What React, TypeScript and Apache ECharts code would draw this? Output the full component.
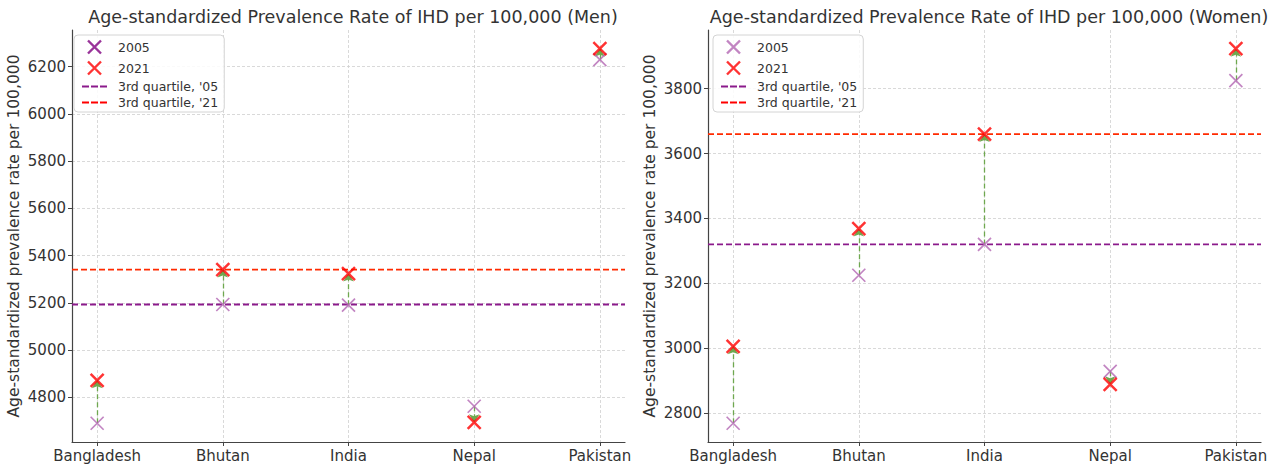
import React, { useEffect, useRef } from "react";
import * as echarts from "echarts";

const categories = ["Bangladesh", "Bhutan", "India", "Nepal", "Pakistan"];
const men2005 = [4690, 5193, 5190, 4762, 6230];
const men2021 = [4872, 5341, 5324, 4694, 6276];
const women2005 = [2769, 3225, 3320, 2929, 3825];
const women2021 = [3006, 3369, 3660, 2889, 3923];
const menTicks = [4800, 5000, 5200, 5400, 5600, 5800, 6000, 6200];
const womenTicks = [2800, 3000, 3200, 3400, 3600, 3800];
const xTicks = [0, 1, 2, 3, 4];

const titles = [
  "Age-standardized Prevalence Rate of IHD per 100,000 (Men)",
  "Age-standardized Prevalence Rate of IHD per 100,000 (Women)",
];
const yName = "Age-standardized prevalence rate per 100,000";

const FONT = "DejaVu Sans";
const TXT = "#333";
const X_ICON = "path://M0,0L10,10M10,0L0,10";
const DASH_ICON = "path://M0,4h7v2.2h-7zM9,4h7v2.2h-7zM18,4h7v2.2h-7z";
const PURPLE_L = "#b366b3";
const PURPLE_D = "#8b1a8b";
const RED = "#ff0000";
const RED_Q = "#ff2a00";
const GREEN = "#6fa84f";

function q3(arr: number[]) {
  const s = [...arr].sort((a, b) => a - b);
  const pos = (s.length - 1) * 0.75;
  const lo = Math.floor(pos);
  const hi = Math.ceil(pos);
  return s[lo] + (s[hi] - s[lo]) * (pos - lo);
}

function range(a: number[], b: number[]) {
  const all = [...a, ...b];
  const mn = Math.min(...all);
  const mx = Math.max(...all);
  const m = (mx - mn) * 0.05;
  return [mn - m, mx + m];
}

export default function App() {
  const ref = useRef<HTMLDivElement>(null);
  useEffect(() => {
    const chart = echarts.init(ref.current!, null, { renderer: "svg" });
    const panels = [
      { d05: men2005, d21: men2021, ticks: menTicks },
      { d05: women2005, d21: women2021, ticks: womenTicks },
    ];
    const grids = [
      { left: 72, right: 657, top: 30, bottom: 24 },
      { left: 708, right: 21, top: 30, bottom: 24 },
    ];
    const xAxes: any[] = [];
    const yAxes: any[] = [];
    const series: any[] = [];
    panels.forEach((p, i) => {
      const [ymin, ymax] = range(p.d05, p.d21);
      xAxes.push({
        type: "value",
        gridIndex: i,
        min: -0.2,
        max: 4.2,
        axisLine: { show: true, onZero: false, lineStyle: { color: "#444", width: 1.2 } },
        axisTick: { show: true, customValues: xTicks, length: 4, lineStyle: { color: "#444" } },
        axisLabel: {
          customValues: xTicks,
          formatter: (v: number) => categories[Math.round(v)] ?? "",
          color: TXT,
          fontFamily: FONT,
          fontSize: 15,
          margin: 6,
        },
        splitLine: { show: true, lineStyle: { color: "#cfcfcf", type: [3, 2], width: 0.8 } },
      });
      yAxes.push({
        type: "value",
        gridIndex: i,
        min: ymin,
        max: ymax,
        name: yName,
        nameLocation: "middle",
        nameGap: 50,
        nameTextStyle: { color: TXT, fontFamily: FONT, fontSize: 15.5 },
        axisLine: { show: true, onZero: false, lineStyle: { color: "#444", width: 1.2 } },
        axisTick: { show: true, customValues: p.ticks, length: 4, lineStyle: { color: "#444" } },
        axisLabel: {
          customValues: p.ticks,
          formatter: (v: number) => String(v),
          color: TXT,
          fontFamily: FONT,
          fontSize: 15,
          margin: 6,
        },
        splitLine: { show: true, lineStyle: { color: "#cfcfcf", type: [3, 2], width: 0.8 } },
      });
      const q05 = q3(p.d05);
      const q21 = q3(p.d21);
      series.push(
        {
          name: "3rd quartile, '05",
          type: "line",
          xAxisIndex: i,
          yAxisIndex: i,
          data: [[-0.2, q05], [4.2, q05]],
          symbol: "none",
          lineStyle: { color: PURPLE_D, width: 1.8, type: [6, 3] },
          itemStyle: { color: PURPLE_D },
          z: 2,
        },
        {
          name: "3rd quartile, '21",
          type: "line",
          xAxisIndex: i,
          yAxisIndex: i,
          data: [[-0.2, q21], [4.2, q21]],
          symbol: "none",
          lineStyle: { color: RED_Q, width: 1.8, type: [6, 3] },
          itemStyle: { color: RED_Q },
          z: 2,
        },
        {
          name: "arrows",
          type: "lines",
          coordinateSystem: "cartesian2d",
          xAxisIndex: i,
          yAxisIndex: i,
          symbol: ["none", "arrow"],
          symbolSize: [0, 8],
          lineStyle: { color: GREEN, width: 1.3, type: [5, 3], opacity: 1 },
          data: categories.map((_, k) => ({ coords: [[k, p.d05[k]], [k, p.d21[k]]] })),
          z: 3,
        },
        {
          name: "2005",
          type: "scatter",
          xAxisIndex: i,
          yAxisIndex: i,
          symbol: X_ICON,
          symbolSize: 13,
          itemStyle: { color: "none", borderColor: PURPLE_L, borderWidth: 1.7 },
          data: categories.map((_, k) => [k, p.d05[k]]),
          z: 4,
        },
        {
          name: "2021",
          type: "scatter",
          xAxisIndex: i,
          yAxisIndex: i,
          symbol: X_ICON,
          symbolSize: 13,
          itemStyle: { color: "none", borderColor: RED, borderWidth: 2.5 },
          data: categories.map((_, k) => [k, p.d21[k]]),
          z: 5,
        }
      );
    });

    const legendFor = (left: number, c05: string) => ({
      orient: "vertical",
      left,
      top: 35,
      itemWidth: 25,
      itemHeight: 13,
      itemGap: 3,
      padding: [3, 6, 3, 8],
      backgroundColor: "rgba(255,255,255,0.85)",
      borderColor: "#d4d4d4",
      borderWidth: 1,
      borderRadius: 4,
      selectedMode: false,
      textStyle: { color: TXT, fontFamily: FONT, fontSize: 12.5, padding: [0, 0, 0, 6] },
      data: [
        { name: "2005", icon: X_ICON, itemStyle: { color: "none", borderColor: c05, borderWidth: 2.4 } },
        { name: "2021", icon: X_ICON, itemStyle: { color: "none", borderColor: RED, borderWidth: 2.4 } },
        { name: "3rd quartile, '05", icon: DASH_ICON, itemStyle: { color: PURPLE_D, borderWidth: 0 } },
        { name: "3rd quartile, '21", icon: DASH_ICON, itemStyle: { color: RED, borderWidth: 0 } },
      ],
    });

    const titleStyle = { color: TXT, fontFamily: FONT, fontSize: 17.5, fontWeight: "normal" };
    chart.setOption({
      animation: false,
      backgroundColor: "#fff",
      title: [
        { text: titles[0], left: 348, top: 3, textAlign: "center", textStyle: titleStyle },
        { text: titles[1], left: 984, top: 3, textAlign: "center", textStyle: titleStyle },
      ],
      legend: [legendFor(74, "#800080"), legendFor(713, PURPLE_L)],
      grid: grids,
      xAxis: xAxes,
      yAxis: yAxes,
      series,
    });
    return () => chart.dispose();
  }, []);
  return <div ref={ref} style={{ position: "absolute", left: 0, top: 0, width: 1282, height: 466 }} />;
}
